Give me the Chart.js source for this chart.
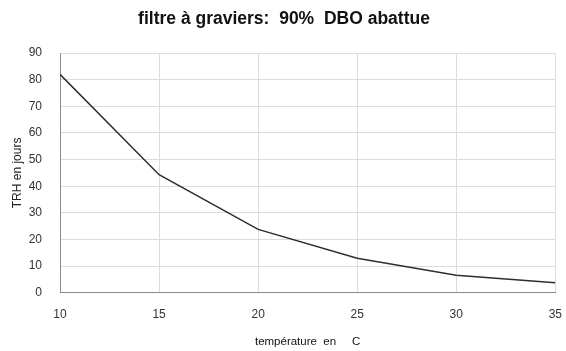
<!DOCTYPE html>
<html>
<head>
<meta charset="utf-8">
<script src="https://cdn.jsdelivr.net/npm/chart.js@4/dist/chart.umd.min.js"></script>
<style>
  html, body { margin: 0; padding: 0; background: #fff; }
  #wrap { width: 566px; height: 351px; position: relative; }
</style>
</head>
<body>
<div id="wrap"><canvas id="trhChart"></canvas></div>
<script>
// temperature (°C) vs TRH (days) for 90% BOD removal
const temperatures = [10, 15, 20, 25, 30, 35];
const trhDays = [82, 44.3, 23.8, 13, 6.6, 3.8];

const gridGrey = '#dcdcdc';
const axisGrey = '#8c8c8c';
const labelColor = '#333';

new Chart(document.getElementById('trhChart'), {
  type: 'line',
  data: {
    datasets: [{
      label: 'TRH',
      data: temperatures.map((t, i) => ({ x: t, y: trhDays[i] })),
      borderColor: '#2e2e2e',
      borderWidth: 1.5,
      pointRadius: 0,
      tension: 0,
      fill: false
    }]
  },
  options: {
    responsive: true,
    maintainAspectRatio: false,
    animation: false,
    layout: { padding: { top: 4, right: 8, left: 10, bottom: 0 } },
    plugins: {
      legend: { display: false },
      tooltip: { enabled: false },
      title: {
        display: true,
        text: 'filtre à graviers:  90%  DBO abattue',
        color: '#111',
        font: { family: 'Liberation Sans', size: 17.5, weight: 'bold' },
        padding: { top: 5, bottom: 23 }
      }
    },
    scales: {
      x: {
        type: 'linear',
        min: 10, max: 35,
        ticks: { stepSize: 5, color: labelColor, font: { family: 'Liberation Sans', size: 12 }, padding: 4 },
        grid: { color: gridGrey, drawTicks: true, tickLength: 11, tickColor: 'rgba(0,0,0,0)' },
        border: { color: axisGrey },
        title: {
          display: true,
          text: 'température  en     C',
          color: '#111',
          font: { family: 'Liberation Sans', size: 11.5 },
          padding: { top: 9, bottom: 2 }
        }
      },
      y: {
        min: 0, max: 90,
        afterFit(scale) { scale.width = 50; },
        ticks: { stepSize: 10, color: labelColor, font: { family: 'Liberation Sans', size: 12 }, padding: 10 },
        grid: { color: gridGrey, drawTicks: true, tickLength: 8, tickColor: 'rgba(0,0,0,0)' },
        border: { color: axisGrey },
        title: {
          display: true,
          text: 'TRH en jours',
          color: '#222',
          font: { family: 'Liberation Sans', size: 12 },
          padding: { top: 0, bottom: 4 }
        }
      }
    }
  }
});
</script>
</body>
</html>
